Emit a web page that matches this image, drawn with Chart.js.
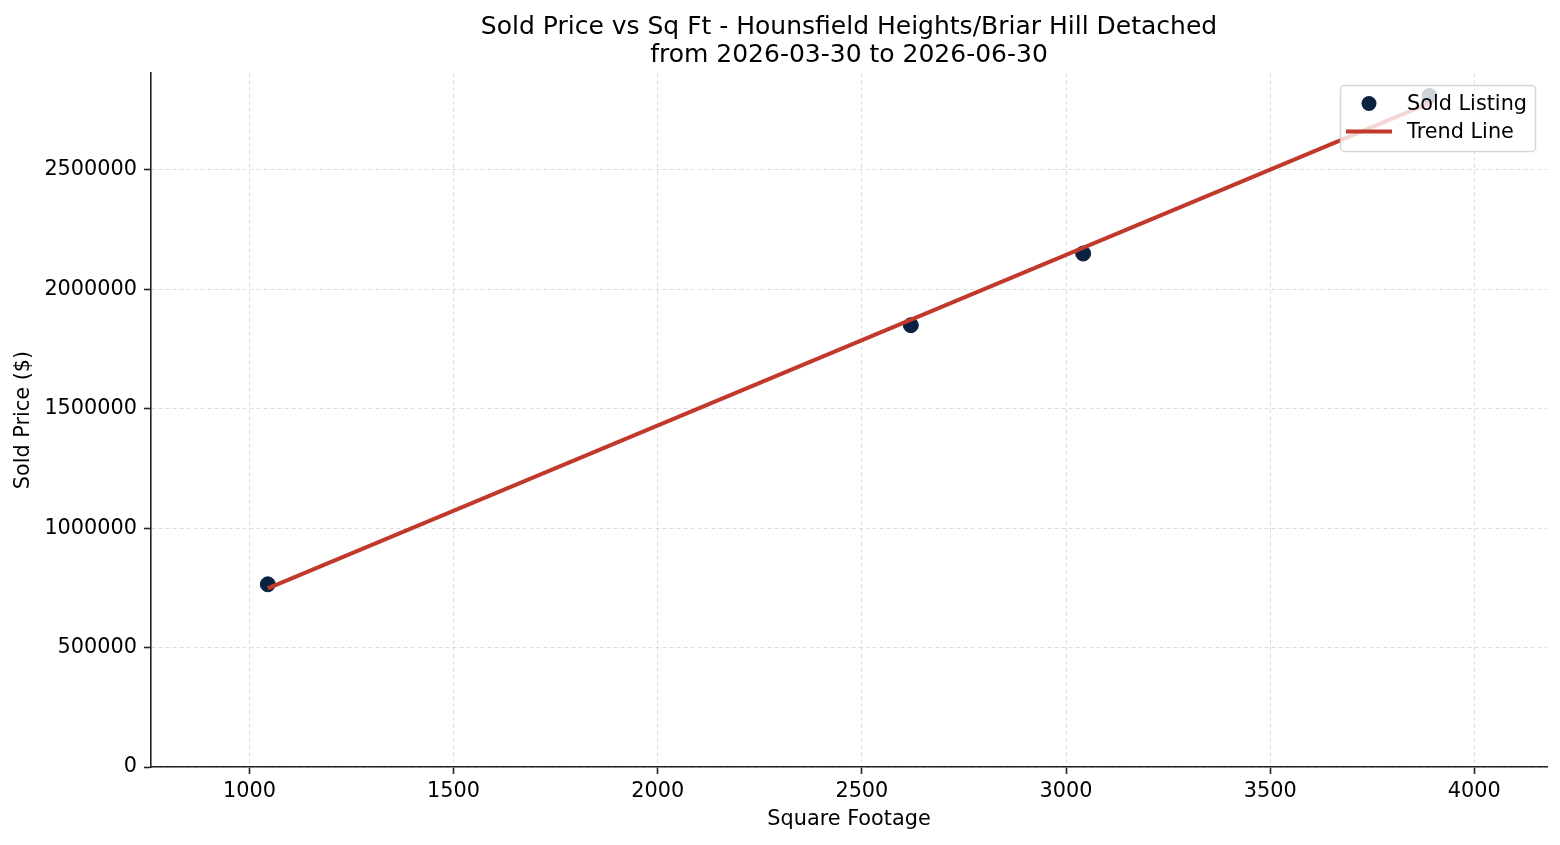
<!DOCTYPE html>
<html>
<head>
<meta charset="utf-8">
<title>Sold Price vs Sq Ft</title>
<script src="https://cdn.jsdelivr.net/npm/chart.js@4.4.1/dist/chart.umd.min.js"></script>
<style>
  html, body { margin: 0; padding: 0; background: #ffffff; }
  #wrap { width: 1560px; height: 845px; }
</style>
</head>
<body>
<div id="wrap"><canvas id="scatter-chart" width="1560" height="845"></canvas></div>
<script>
// Sold listings (square footage vs sold price)
const sqft = [1045, 2620, 3042, 3890];
const soldPrice = [765000, 1850000, 2150000, 2810000];

// Trend line endpoints (least squares fit over the listings)
const trendSqft = [1045, 3890];
const trendPrice = [748000, 2780000];

// Axis ticks
const xTicks = [1000, 1500, 2000, 2500, 3000, 3500, 4000];
const yTicks = [0, 500000, 1000000, 1500000, 2000000, 2500000];

const titleLines = [
  'Sold Price vs Sq Ft - Hounsfield Heights/Briar Hill Detached',
  'from 2026-03-30 to 2026-06-30'
];
const legendLabels = ['Sold Listing', 'Trend Line'];

(function() {
  'use strict';

  const FONT = "'DejaVu Sans', 'Liberation Sans', sans-serif";
  const POINT_COLOR = '#0a2141';
  const LINE_COLOR = '#c0392b';
  const AXIS_COLOR = '#222222';
  const GRID_COLOR = 'rgba(195, 195, 195, 0.55)';

  /**
   * Legend box drawn inside the plot area, top right, like matplotlib
   */
  const insideLegend = {
    id: 'insideLegend',
    afterDraw(chart) {
      const ctx = chart.ctx;
      const area = chart.chartArea;
      const boxW = 195, boxH = 66;
      const x = area.right - 12 - boxW;
      const y = area.top + 12;

      ctx.save();
      ctx.beginPath();
      if (ctx.roundRect) {
        ctx.roundRect(x + 0.5, y + 0.5, boxW, boxH, 4);
      } else {
        ctx.rect(x + 0.5, y + 0.5, boxW, boxH);
      }
      ctx.fillStyle = 'rgba(255, 255, 255, 0.8)';
      ctx.fill();
      ctx.lineWidth = 1.5;
      ctx.strokeStyle = 'rgba(204, 204, 204, 0.8)';
      ctx.stroke();

      // marker for scatter
      ctx.beginPath();
      ctx.arc(x + 29, y + 18.5, 7.5, 0, Math.PI * 2);
      ctx.fillStyle = POINT_COLOR;
      ctx.fill();

      // marker for trend line
      ctx.beginPath();
      ctx.moveTo(x + 6, y + 46.5);
      ctx.lineTo(x + 52, y + 46.5);
      ctx.lineWidth = 4;
      ctx.strokeStyle = LINE_COLOR;
      ctx.stroke();

      ctx.fillStyle = '#000000';
      ctx.font = '20.8px ' + FONT;
      ctx.textAlign = 'left';
      ctx.textBaseline = 'middle';
      ctx.fillText(legendLabels[0], x + 67, y + 20);
      ctx.fillText(legendLabels[1], x + 67, y + 48);
      ctx.restore();
    }
  };

  function initializeChart() {
    const ctx = document.getElementById('scatter-chart');

    const listingPoints = sqft.map((v, i) => ({ x: v, y: soldPrice[i] }));
    const trendPoints = trendSqft.map((v, i) => ({ x: v, y: trendPrice[i] }));

    const gridCommon = {
      color: GRID_COLOR,
      lineWidth: 1,
      drawTicks: true,
      tickLength: 7,
      tickColor: AXIS_COLOR,
      tickWidth: 1.6,
      tickBorderDash: []
    };

    new Chart(ctx, {
      type: 'scatter',
      data: {
        datasets: [
          {
            label: legendLabels[1],
            data: trendPoints,
            showLine: true,
            borderColor: LINE_COLOR,
            backgroundColor: LINE_COLOR,
            borderWidth: 4,
            pointRadius: 0,
            fill: false,
            order: 0
          },
          {
            label: legendLabels[0],
            data: listingPoints,
            backgroundColor: POINT_COLOR,
            borderColor: POINT_COLOR,
            borderWidth: 1,
            pointRadius: 7.5,
            order: 1
          }
        ]
      },
      options: {
        responsive: false,
        animation: false,
        layout: { padding: { left: 0, right: 13, top: 0, bottom: 0 } },
        plugins: {
          legend: { display: false },
          tooltip: { enabled: false },
          title: {
            display: true,
            text: titleLines,
            fullSize: false,
            color: '#000000',
            font: { family: FONT, size: 25, weight: 'normal', lineHeight: 1.12 },
            padding: { top: 13, bottom: 4 }
          }
        },
        scales: {
          x: {
            type: 'linear',
            min: 759,
            max: 4178,
            grid: gridCommon,
            border: { display: true, color: AXIS_COLOR, width: 1.6, dash: [4, 3] },
            afterBuildTicks: (scale) => { scale.ticks = xTicks.map(v => ({ value: v })); },
            afterFit: (scale) => { scale.height = 78; },
            ticks: {
              color: '#000000',
              padding: 5,
              font: { family: FONT, size: 20.8 },
              callback: (v) => String(v)
            },
            title: {
              display: true,
              text: 'Square Footage',
              color: '#000000',
              font: { family: FONT, size: 20.8 },
              padding: { top: 0, bottom: 13 }
            }
          },
          y: {
            type: 'linear',
            min: 0,
            max: 2906000,
            grid: gridCommon,
            border: { display: true, color: AXIS_COLOR, width: 1.6, dash: [4, 3] },
            afterBuildTicks: (scale) => { scale.ticks = yTicks.map(v => ({ value: v })); },
            afterFit: (scale) => { scale.width = 151; },
            ticks: {
              color: '#000000',
              padding: 7,
              font: { family: FONT, size: 20.8 },
              callback: (v) => String(v)
            },
            title: {
              display: true,
              text: 'Sold Price ($)',
              color: '#000000',
              font: { family: FONT, size: 20.8 },
              padding: { top: 11, bottom: 0 }
            }
          }
        }
      },
      plugins: [insideLegend]
    });
  }

  if (document.readyState === 'loading') {
    document.addEventListener('DOMContentLoaded', initializeChart);
  } else {
    initializeChart();
  }
})();
</script>
</body>
</html>
